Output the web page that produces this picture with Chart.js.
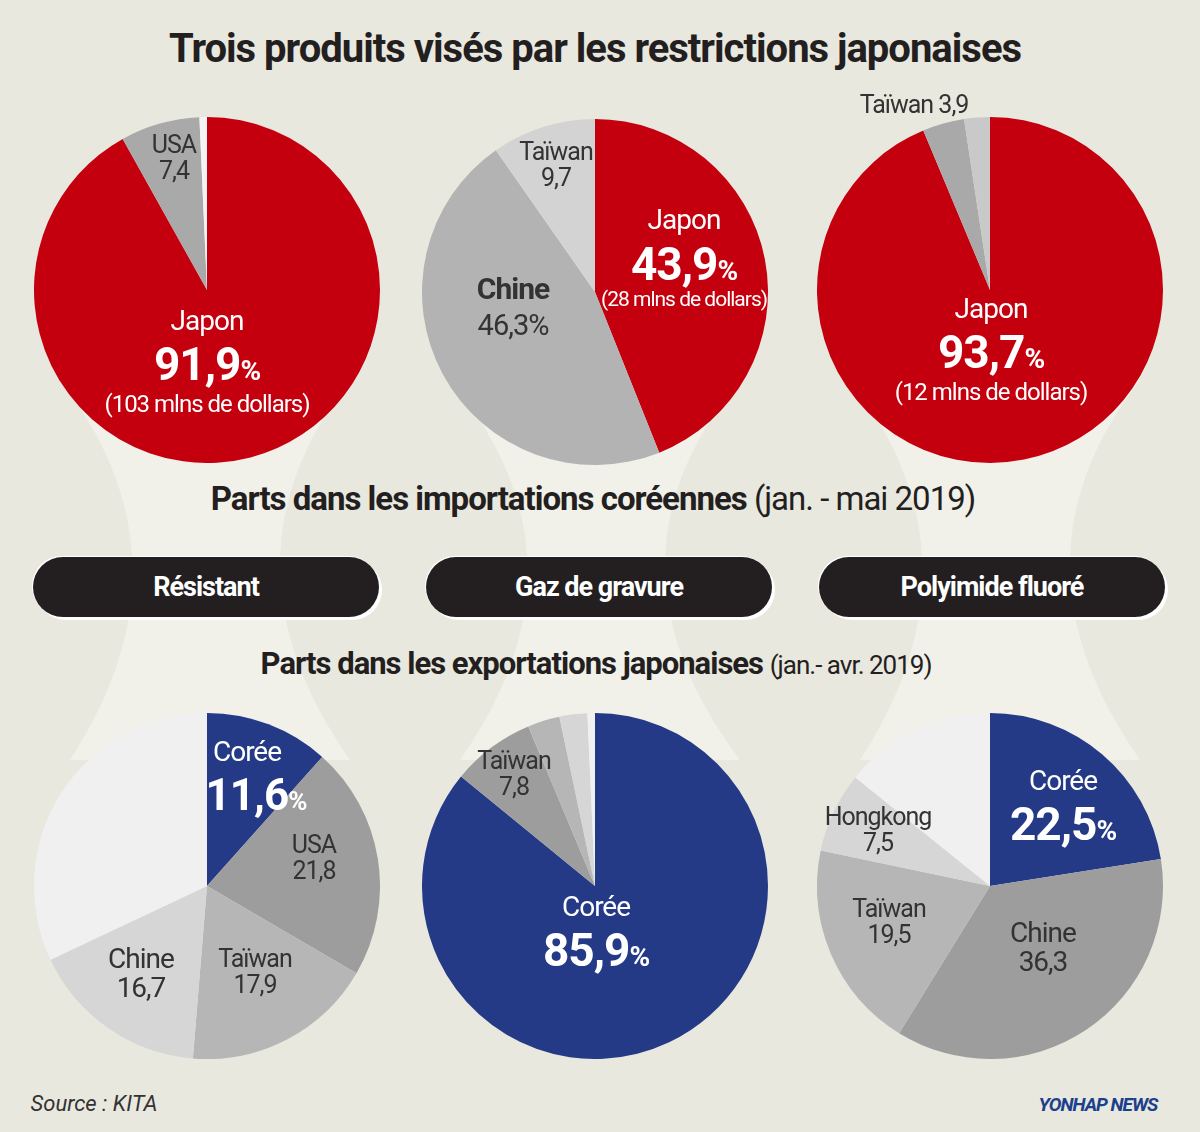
<!DOCTYPE html>
<html><head><meta charset="utf-8">
<script src="https://cdn.jsdelivr.net/npm/chart.js@4"></script>
<style>
body{margin:0;width:1200px;height:1132px;background:#e9e8df;position:relative;overflow:hidden;font-family:Roboto,"Noto Sans",sans-serif;}
canvas.p{position:absolute;}
.t{position:absolute;white-space:nowrap;transform:translateX(-50%);text-align:center;line-height:1.05;letter-spacing:-1px;}
.w{color:#fff}.d{color:#333}
.b{font-weight:700}
.pill{position:absolute;top:557px;width:346px;height:60px;background:#231f20;border-radius:30px;box-shadow:3px 3px 0 #fff,-1px -1px 0 #fff;color:#fff;font-weight:700;font-size:27px;display:flex;align-items:center;justify-content:center;letter-spacing:-1px;}
</style></head><body>
<svg style="position:absolute;left:0;top:0" width="1200" height="1132">
<path d="M60 380 Q200 560 70 760 L350 760 Q210 560 350 380Z" fill="#f1f1ea"/>
<path d="M450 380 Q600 560 460 760 L740 760 Q590 560 740 380Z" fill="#f1f1ea"/>
<path d="M850 380 Q990 560 860 760 L1140 760 Q1000 560 1140 380Z" fill="#f1f1ea"/>
</svg>
<div class="t b" style="left:595px;top:28px;font-size:40px;color:#231f20">Trois produits visés par les restrictions japonaises</div>
<canvas class="p" id="c0" width="346" height="346" style="left:34px;top:117px"></canvas>
<canvas class="p" id="c1" width="346" height="346" style="left:422px;top:119px"></canvas>
<canvas class="p" id="c2" width="346" height="346" style="left:817px;top:117px"></canvas>
<canvas class="p" id="c3" width="346" height="346" style="left:34px;top:713px"></canvas>
<canvas class="p" id="c4" width="346" height="346" style="left:422px;top:713px"></canvas>
<canvas class="p" id="c5" width="346" height="346" style="left:817px;top:713px"></canvas>

<div class="t d" style="left:174px;top:132px;font-size:25px">USA<br>7,4</div>
<div class="t w" style="left:207px;top:306px;font-size:28px">Japon</div>
<div class="t w b" style="left:207px;top:340px;font-size:46px">91,9<span style="font-size:28px">%</span></div>
<div class="t w" style="left:207px;top:392px;font-size:24px">(103 mlns de dollars)</div>

<div class="t d" style="left:556px;top:139px;font-size:25px">Taïwan<br>9,7</div>
<div class="t d b" style="left:513px;top:273px;font-size:30px;color:#333">Chine</div>
<div class="t d" style="left:513px;top:310px;font-size:29px">46,3%</div>
<div class="t w" style="left:684px;top:205px;font-size:28px">Japon</div>
<div class="t w b" style="left:684px;top:240px;font-size:46px">43,9<span style="font-size:28px">%</span></div>
<div class="t w" style="left:684px;top:288px;font-size:21px">(28 mlns de dollars)</div>

<div class="t d" style="left:914px;top:92px;font-size:25px">Taïwan 3,9</div>
<div class="t w" style="left:991px;top:294px;font-size:28px">Japon</div>
<div class="t w b" style="left:991px;top:328px;font-size:46px">93,7<span style="font-size:28px">%</span></div>
<div class="t w" style="left:991px;top:380px;font-size:24px">(12 mlns de dollars)</div>

<div class="t" style="left:593px;top:482px;font-size:33px;color:#231f20"><b>Parts dans les importations coréennes</b> (jan. - mai 2019)</div>
<div class="pill" style="left:33px">Résistant</div>
<div class="pill" style="left:426px">Gaz de gravure</div>
<div class="pill" style="left:819px">Polyimide fluoré</div>
<div class="t" style="left:596px;top:648px;font-size:31px;color:#231f20"><b>Parts dans les exportations japonaises</b> <span style="font-size:26px">(jan.- avr. 2019)</span></div>

<div class="t w" style="left:247px;top:737px;font-size:28px">Corée</div>
<div class="t w b" style="left:256px;top:772px;font-size:44px">11,6<span style="font-size:26px">%</span></div>
<div class="t d" style="left:314px;top:832px;font-size:25px">USA<br>21,8</div>
<div class="t d" style="left:255px;top:946px;font-size:25px">Taïwan<br>17,9</div>
<div class="t d" style="left:141px;top:944px;font-size:28px">Chine<br>16,7</div>

<div class="t d" style="left:514px;top:748px;font-size:25px">Taïwan<br>7,8</div>
<div class="t w" style="left:596px;top:892px;font-size:28px">Corée</div>
<div class="t w b" style="left:596px;top:926px;font-size:46px">85,9<span style="font-size:28px">%</span></div>

<div class="t w" style="left:1063px;top:766px;font-size:28px">Corée</div>
<div class="t w b" style="left:1063px;top:800px;font-size:46px">22,5<span style="font-size:28px">%</span></div>
<div class="t d" style="left:878px;top:804px;font-size:25px">Hongkong<br>7,5</div>
<div class="t d" style="left:889px;top:896px;font-size:25px">Taïwan<br>19,5</div>
<div class="t d" style="left:1043px;top:918px;font-size:28px">Chine<br>36,3</div>

<div class="t" style="left:94px;top:1092px;font-size:22px;font-style:italic;color:#333;letter-spacing:0">Source : KITA</div>
<div class="t b" style="left:1098px;top:1095px;font-size:19px;color:#1c3f8c;font-style:italic">YONHAP NEWS</div>

<script>
const topLabels=['Japon','USA','Autres'];
const topLeft=[91.9,7.4,0.7];
const topMidLabels=['Japon','Chine','Taïwan'];
const topMid=[43.9,46.3,9.7];
const topRightLabels=['Japon','Taïwan','Autres'];
const topRight=[93.7,3.9,2.4];
const botLeftLabels=['Corée','USA','Taïwan','Chine','Autres'];
const botLeft=[11.6,21.8,17.9,16.7,32.0];
const botMidLabels=['Corée','Taïwan','Autre1','Autre2','Autre3'];
const botMid=[85.9,7.8,3.0,2.6,0.7];
const botRightLabels=['Corée','Chine','Taïwan','Hongkong','Autres'];
const botRight=[22.5,36.3,19.5,7.5,14.2];

const R='#c4000f',B='#243a86';
function pie(id,labels,data,colors){
  new Chart(document.getElementById(id),{type:'pie',
    data:{labels,datasets:[{data,backgroundColor:colors,borderWidth:0}]},
    options:{responsive:false,animation:false,layout:{padding:0},
      plugins:{legend:{display:false},tooltip:{enabled:false}}}});
}
pie('c0',topLabels,topLeft,[R,'#a9a9a9','#f4f4f4']);
pie('c1',topMidLabels,topMid,[R,'#b3b3b3','#d3d3d3']);
pie('c2',topRightLabels,topRight,[R,'#a9a9a9','#c9c9c9']);
const g=[B,'#9d9d9d','#b6b6b6','#d6d6d6','#f0f0f0'];
pie('c3',botLeftLabels,botLeft,g);
pie('c4',botMidLabels,botMid,g);
pie('c5',botRightLabels,botRight,g);
</script>
</body></html>
